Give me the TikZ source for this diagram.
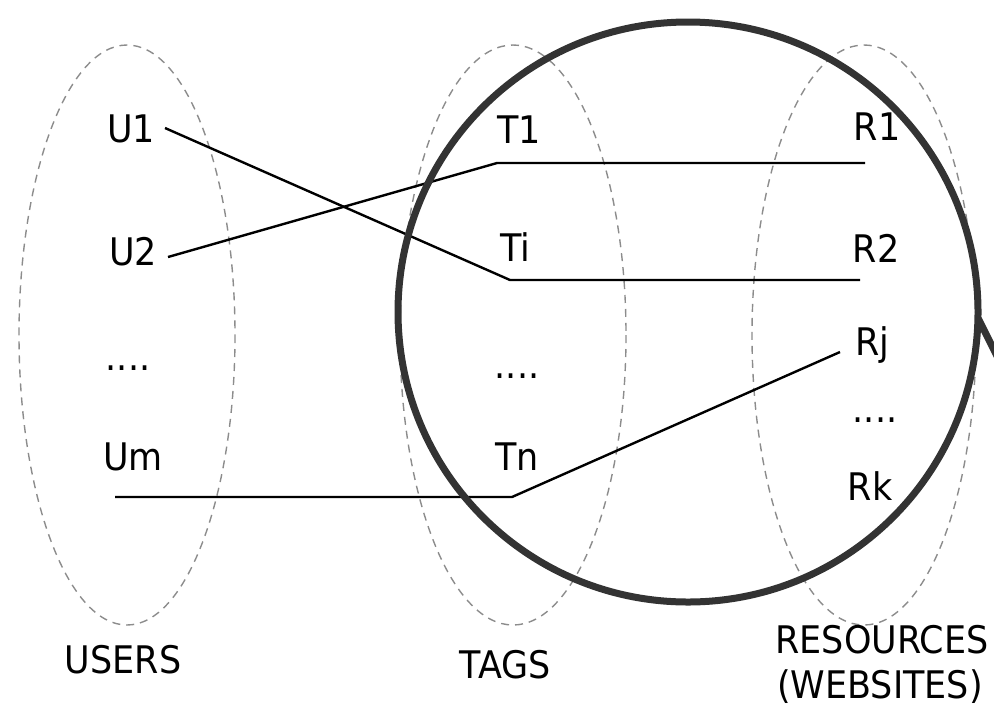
\documentclass[tikz,border=0pt]{standalone}
\usepackage{fontspec}
\setmainfont{DejaVu Sans}[FakeStretch=0.92]
\usetikzlibrary{arrows.meta}

\begin{document}
\begin{tikzpicture}[x=0.5pt, y=-0.5pt,
    lbl/.style={anchor=base, inner sep=0pt, font=\fontsize{19}{23}\selectfont},
    set/.style={draw=black!45, dash pattern=on 4pt off 3pt, line width=0.7pt},
    link/.style={line width=1.2pt, line join=round}]
    \useasboundingbox (0,0) rectangle (994,713);
    \draw[set] (127,335) ellipse [x radius=108, y radius=290];
    \draw[set] (513,335) ellipse [x radius=113, y radius=290];
    \draw[set] (864,335) ellipse [x radius=112, y radius=290];
    \node[lbl] (u1) at (131,142) {U1};
    \node[lbl] (u2) at (133,265) {U2};
    \node[lbl] (ud) at (128,370) {....};
    \node[lbl] (um) at (133,470) {Um};
    \node[lbl] (t1) at (519,143) {T1};
    \node[lbl] (ti) at (515,261) {Ti};
    \node[lbl] (td) at (517,378) {....};
    \node[lbl] (tn) at (517,470) {Tn};
    \node[lbl] (r1) at (877,140) {R1};
    \node[lbl] (r2) at (876,262) {R2};
    \node[lbl] (rj) at (872,355) {Rj};
    \node[lbl] (rd) at (875,422) {....};
    \node[lbl] (rk) at (870,500) {Rk};
    \node[lbl] (users) at (123,673) {USERS};
    \node[lbl] (tags) at (505,678) {TAGS};
    \node[lbl] (res) at (882,653) {RESOURCES};
    \node[lbl] (web) at (880,698) {(WEBSITES)};
    % links
    \coordinate (u1-o) at (165,128);
    \coordinate (u2-o) at (168,257);
    \coordinate (um-o) at (115,497);
    \coordinate (t1-k) at (497,163);
    \coordinate (ti-k) at (510,280);
    \coordinate (tn-k) at (512,497);
    \coordinate (r1-i) at (865,163);
    \coordinate (r2-i) at (860,280);
    \coordinate (rj-i) at (840,352);
    \draw[link] (u1-o)--(ti-k)--(r2-i);
    \draw[link] (u2-o)--(t1-k)--(r1-i);
    \draw[link] (um-o)--(tn-k)--(rj-i);
    % lens
    \draw[line width=3.5pt, draw=black!80] (688,312) circle [radius=290] (978,318)--(998,358);
\end{tikzpicture}
\end{document}
